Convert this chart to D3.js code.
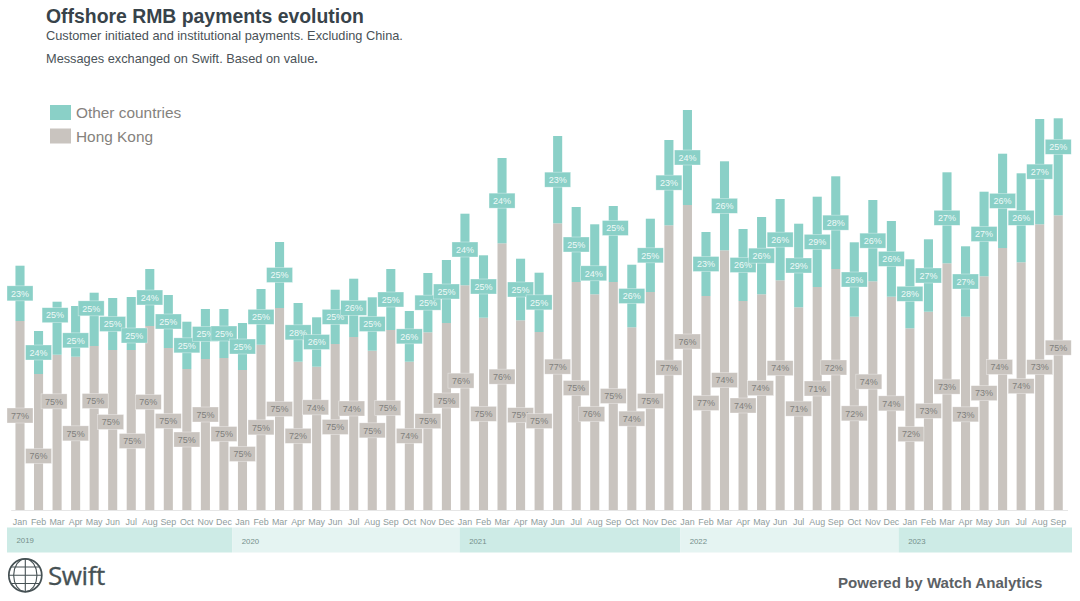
<!DOCTYPE html>
<html>
<head>
<meta charset="utf-8">
<script src="https://cdn.jsdelivr.net/npm/d3@7"></script>
<style>
    html, body { margin: 0; padding: 0; background: #fff; }
    svg { display: block; }
    text { font-family: "Liberation Sans", Arial, sans-serif; }
</style>
</head>
<body>
<svg id="chart" width="1080" height="601"></svg>
<script>

var monthNames = ["Jan", "Feb", "Mar", "Apr", "May", "Jun", "Jul", "Aug", "Sep", "Oct", "Nov", "Dec"];
var years = [2019, 2020, 2021, 2022, 2023];
var monthsInYear = [12, 12, 12, 12, 9];

// bar heights (no axis in the source, so relative units)
var hongKong = [
    189, 136, 155.3, 153.3, 164, 160, 160, 184, 162, 141, 151, 152,
    140, 165.3, 202, 148.3, 143.3, 166, 173, 159.3, 180, 148.3, 177.7, 187,
    224.7, 192.3, 266.7, 189.7, 178, 286.7, 228, 215.7, 228, 182.7, 218, 284.7,
    305, 214, 259.7, 209, 215.7, 229.7, 202.7, 223, 241, 193.3, 228.7, 213.3,
    181.7, 198.3, 246.7, 193.3, 233.7, 262, 247.7, 285.7, 294.7
];
var otherCountries = [
    55.3, 43, 53, 50.7, 53.3, 52, 53, 57, 53, 47.3, 50, 49,
    47, 55.7, 66, 58.7, 49.4, 54.3, 58.3, 53.4, 61, 50.7, 59.3, 63,
    71.6, 62.4, 85.3, 61.6, 59.3, 87.3, 75, 70, 76, 62.6, 73.3, 85.3,
    95, 64, 89, 72, 77.3, 81.3, 83.6, 90.3, 92.7, 74.4, 81.3, 75.7,
    69, 72.4, 91, 70.4, 84.6, 94.3, 89, 105.3, 97
];
var hongKongShare = [
    77, 76, 75, 75, 75, 75, 75, 76, 75, 75, 75, 75,
    75, 75, 75, 72, 74, 75, 74, 75, 75, 74, 75, 75,
    76, 75, 76, 75, 75, 77, 75, 76, 75, 74, 75, 77,
    76, 77, 74, 74, 74, 74, 71, 71, 72, 72, 74, 74,
    72, 73, 73, 73, 73, 74, 74, 73, 75
];
var otherShare = [
    23, 24, 25, 25, 25, 25, 25, 24, 25, 25, 25, 25,
    25, 25, 25, 28, 26, 25, 26, 25, 25, 26, 25, 25,
    24, 25, 24, 25, 25, 23, 25, 24, 25, 26, 25, 23,
    24, 23, 26, 26, 26, 26, 29, 29, 28, 28, 26, 26,
    28, 27, 27, 27, 27, 26, 26, 27, 25
];

// labels the source moved by hand so they would not collide: bar index -> [dx, dy]
var otherNudges = { 2: [-2, -13], 3: [0, 9], 4: [-3, -11], 6: [3, 12], 31: [-1, 14], 32: [2, -16], 56: [0, -20] };
var hongKongNudges = {
    1: [0, 14], 2: [-3, -31], 4: [1, -27], 5: [-2, -8], 6: [1, 11], 7: [-1.5, -16], 8: [0, -8],
    10: [0, -20], 12: [0, 14], 16: [-1, -31], 18: [-2, -15], 20: [-3, -12], 23: [0, -16], 24: [-4, -17],
    30: [0, -8], 31: [-3, 12], 36: [0, -16], 40: [-1, -14], 41: [0, -27], 43: [0, -10], 44: [-2, -22],
    46: [-4, -14], 48: [1, 15], 51: [0, 1], 53: [-3, -12], 56: [0, -15]
};

var colors = { other: "#8ad0c7", hongKong: "#c9c4bf" };

var svg = d3.select("#chart");

var table = hongKong.map(function (d, i) {
    return { index: i, hongKong: d, other: otherCountries[i] };
});

var monthLabels = [];
years.forEach(function (y, k) {
    d3.range(monthsInYear[k]).forEach(function (m) { monthLabels.push(monthNames[m]); });
});

var x = d3.scaleBand()
    .domain(d3.range(table.length))
    .range([10.73, 1067.5])
    .paddingInner(0.51)
    .paddingOuter(0.255);

var y = d3.scaleLinear().domain([0, 400]).range([510, 110]);

/* year strip */
var yearStarts = [];
monthsInYear.reduce(function (sum, n) { yearStarts.push(sum); return sum + n; }, 0);
var yearShift = [0, -1, 4, 2, -2];
var stripLeft = 7, stripRight = 1072;

function bandStart(k) {
    if (k === 0) return stripLeft;
    if (k === years.length) return stripRight;
    return x(yearStarts[k]) - x.step() * x.paddingInner() / 2 + yearShift[k];
}

var strip = svg.append("g").selectAll("g").data(years).enter().append("g");
strip.append("rect")
    .attr("x", function (d, k) { return bandStart(k); })
    .attr("y", 527.5)
    .attr("width", function (d, k) { return bandStart(k + 1) - bandStart(k); })
    .attr("height", 25)
    .attr("fill", function (d, k) { return k % 2 === 0 ? "#cdebe6" : "#e5f4f2"; });
strip.append("text")
    .attr("x", function (d, k) { return bandStart(k) + 9.5; })
    .attr("y", function (d, k) { return k === 0 ? 543 : 544; })
    .attr("font-size", 7.8)
    .attr("fill", "#75908b")
    .text(function (d) { return d; });

/* month axis */
var xAxis = d3.axisBottom(x)
    .tickSize(0)
    .tickPadding(8.5)
    .tickFormat(function (i) { return monthLabels[i]; });

var axisG = svg.append("g").attr("transform", "translate(0,510)").call(xAxis);
axisG.select(".domain").attr("stroke", "#e6e6e6").attr("stroke-width", 1);
axisG.selectAll("text")
    .attr("font-family", "'Liberation Sans', Arial, sans-serif")
    .attr("font-size", 8.9)
    .attr("fill", "#8f9d9d");

/* stacked bars */
var stack = d3.stack().keys(["hongKong", "other"]);
var series = stack(table);
var seriesColor = { hongKong: colors.hongKong, other: colors.other };

svg.append("g").selectAll("g").data(series).enter().append("g")
    .attr("fill", function (s) { return seriesColor[s.key]; })
    .selectAll("rect").data(function (s) { return s; }).enter().append("rect")
    .attr("x", function (d) { return x(d.data.index); })
    .attr("y", function (d) { return y(d[1]); })
    .attr("width", x.bandwidth())
    .attr("height", function (d) { return y(d[0]) - y(d[1]); });

/* value labels, centred in their segment unless nudged */
function addLabels(s, shares, nudges, fill, textFill) {
    var g = svg.append("g").selectAll("g").data(s).enter().append("g")
        .attr("transform", function (d, i) {
            var n = nudges[i] || [0, 0];
            return "translate(" + (x(i) + x.bandwidth() / 2 + n[0]) + "," + ((y(d[0]) + y(d[1])) / 2 + n[1]) + ")";
        });
    g.append("rect")
        .attr("x", -13)
        .attr("y", -7.5)
        .attr("width", 26)
        .attr("height", 15)
        .attr("fill", fill)
        .attr("stroke", "#fff")
        .attr("stroke-opacity", 0.55)
        .attr("stroke-width", 0.6);
    g.append("text")
        .attr("text-anchor", "middle")
        .attr("y", 3.2)
        .attr("font-size", 9)
        .attr("fill", textFill)
        .text(function (d, i) { return shares[i] + "%"; });
}

addLabels(series[0], hongKongShare, hongKongNudges, colors.hongKong, "#7f7f7c");
addLabels(series[1], otherShare, otherNudges, colors.other, "#eff9f7");

/* header */
svg.append("text").attr("x", 46).attr("y", 23).attr("font-size", 19.4).attr("font-weight", "bold")
    .attr("fill", "#38434a").text("Offshore RMB payments evolution");
svg.append("text").attr("x", 46).attr("y", 40).attr("font-size", 12.77)
    .attr("fill", "#4a5257").text("Customer initiated and institutional payments. Excluding China.");
var line2 = svg.append("text").attr("x", 46).attr("y", 62.5).attr("font-size", 12.77).attr("fill", "#4a5257");
line2.append("tspan").text("Messages exchanged on Swift. Based on value");
line2.append("tspan").attr("font-weight", "bold").text(".");

/* legend */
var legendNames = ["Other countries", "Hong Kong"];
var legendColors = [colors.other, colors.hongKong];
var legend = svg.append("g").selectAll("g").data(legendNames).enter().append("g")
    .attr("transform", function (d, i) { return "translate(50," + (105 + i * 23.5) + ")"; });
legend.append("rect").attr("width", 21).attr("height", 15)
    .attr("fill", function (d, i) { return legendColors[i]; });
legend.append("text").attr("x", 26).attr("y", 13).attr("font-size", 15.4).attr("fill", "#85827d")
    .text(function (d) { return d; });

/* footer */
var globe = d3.geoOrthographic().scale(16.5).translate([25.3, 575.3]).clipAngle(90);
var globePath = d3.geoPath(globe);
var globeLines = d3.geoGraticule().step([45, 30]).extent([[-180, -90], [180, 90]]).lines()
    .filter(function (l) { return Math.abs(l.coordinates[0][1]) !== 60; });
var logo = svg.append("g").attr("fill", "none").attr("stroke", "#465154");
logo.append("path").datum({ type: "GeometryCollection", geometries: globeLines }).attr("d", globePath).attr("stroke-width", 1.1);
logo.append("circle").attr("cx", 25.3).attr("cy", 575.3).attr("r", 16.5).attr("stroke-width", 1.7);
svg.append("text").attr("x", 48).attr("y", 585)
    .style("font-family", "'Open Sans', sans-serif").attr("font-size", 26).attr("letter-spacing", -0.4)
    .attr("fill", "#465154").attr("stroke", "#465154").attr("stroke-width", 0.3).text("Swift");
svg.append("text").attr("x", 838).attr("y", 588).attr("font-size", 15.1).attr("font-weight", "bold")
    .attr("fill", "#5c6165").text("Powered by Watch Analytics");

</script>
</body>
</html>
